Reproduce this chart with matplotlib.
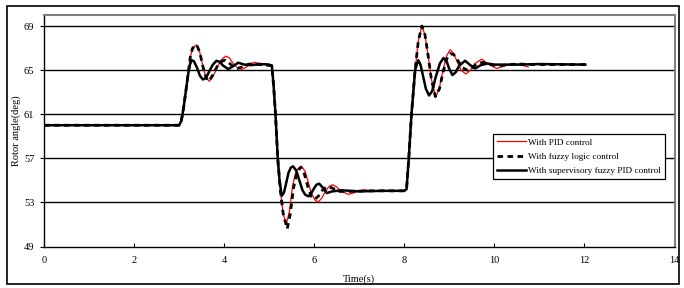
import matplotlib.pyplot as plt
from matplotlib.patches import Rectangle

plt.rcParams['font.family'] = ['Liberation Serif', 'DejaVu Serif']

# PID control
t_pid = [0, 3.0, 3.05, 3.1, 3.15, 3.2, 3.25, 3.3, 3.39, 3.46,
         3.53, 3.6, 3.67, 3.75, 3.85, 3.95, 4.04, 4.12, 4.2, 4.3,
         4.39, 4.5, 4.6, 4.68, 4.8, 4.95, 5.06, 5.1, 5.14, 5.19,
         5.25, 5.31, 5.38, 5.45, 5.52, 5.6, 5.66, 5.72, 5.8, 5.87,
         5.94, 6.02, 6.09, 6.17, 6.25, 6.33, 6.41, 6.5, 6.6, 6.76,
         6.9, 7.0, 7.13, 7.25, 7.4, 7.7, 8.0, 8.05, 8.1, 8.16,
         8.24, 8.31, 8.39, 8.46, 8.53, 8.6, 8.7, 8.78, 8.86, 8.94,
         9.02, 9.1, 9.18, 9.27, 9.37, 9.47, 9.57, 9.72, 9.85, 10.05,
         10.2, 10.41, 10.55, 10.75]
v_pid = [60, 60, 60.4, 61.6, 63.1, 64.7, 66.2, 67.0, 67.3, 66.6,
         65.3, 64.3, 64.0, 64.4, 65.3, 66.0, 66.27, 66.1, 65.6, 65.2,
         65.06, 65.3, 65.6, 65.7, 65.6, 65.55, 65.4, 63.5, 61.0, 57.0,
         54.0, 52.0, 51.0, 52.2, 54.5, 55.9, 56.1, 56.27, 55.8, 54.8,
         53.8, 53.2, 53.03, 53.4, 54.0, 54.45, 54.6, 54.4, 54.0, 53.73,
         53.9, 54.05, 54.15, 54.05, 54.0, 54.05, 54.05, 54.2, 57.0, 61.0,
         65.0, 67.6, 69.0, 68.2, 66.3, 64.2, 62.57, 63.4, 65.0, 66.3,
         66.85, 66.5, 65.7, 64.95, 64.65, 65.0, 65.6, 66.0, 65.6, 65.15,
         65.35, 65.6, 65.5, 65.3]

# fuzzy logic control
t_fuz = [0, 3.0, 3.05, 3.1, 3.15, 3.2, 3.25, 3.3, 3.39, 3.46,
         3.53, 3.6, 3.66, 3.74, 3.84, 3.94, 4.02, 4.1, 4.2, 4.3,
         4.4, 4.55, 4.8, 5.06, 5.1, 5.14, 5.19, 5.25, 5.31, 5.4,
         5.47, 5.54, 5.62, 5.7, 5.78, 5.86, 5.94, 6.02, 6.1, 6.2,
         6.3, 6.4, 6.55, 6.8, 7.2, 8.0, 8.05, 8.1, 8.16, 8.24,
         8.31, 8.39, 8.46, 8.53, 8.6, 8.69, 8.78, 8.86, 8.94, 9.02,
         9.1, 9.2, 9.3, 9.4, 9.5, 9.62, 9.75, 9.9, 10.1, 10.5,
         11.0, 12.02]
v_fuz = [60, 60, 60.4, 61.6, 63.1, 64.7, 66.2, 67.0, 67.3, 66.6,
         65.3, 64.3, 64.0, 64.5, 65.3, 65.8, 65.9, 65.7, 65.3, 65.15,
         65.3, 65.55, 65.5, 65.4, 63.5, 61.0, 57.0, 54.0, 52.0, 50.6,
         52.0, 54.3, 55.8, 56.2, 55.6, 54.4, 53.5, 53.3, 53.6, 54.2,
         54.45, 54.3, 54.0, 54.0, 54.05, 54.05, 54.2, 57.0, 61.0, 65.0,
         67.6, 69.0, 68.2, 66.3, 64.2, 62.6, 63.3, 64.8, 66.0, 66.5,
         66.4, 65.8, 65.2, 65.0, 65.2, 65.6, 65.7, 65.5, 65.4, 65.55,
         65.5, 65.5]

# supervisory fuzzy PID control
t_sup = [0, 3.0, 3.05, 3.1, 3.15, 3.2, 3.24, 3.28, 3.33, 3.4,
         3.46, 3.53, 3.6, 3.67, 3.75, 3.83, 3.9, 3.98, 4.09, 4.18,
         4.31, 4.45, 4.6, 4.8, 5.0, 5.06, 5.1, 5.14, 5.19, 5.23,
         5.28, 5.33, 5.38, 5.43, 5.48, 5.53, 5.6, 5.67, 5.74, 5.8,
         5.87, 5.93, 6.0, 6.05, 6.11, 6.2, 6.28, 6.4, 6.6, 7.0,
         7.5, 8.0, 8.05, 8.1, 8.16, 8.24, 8.31, 8.36, 8.42, 8.48,
         8.55, 8.62, 8.7, 8.79, 8.87, 8.94, 9.0, 9.07, 9.14, 9.22,
         9.35, 9.45, 9.57, 9.7, 9.85, 10.0, 10.5, 11.0, 12.02]
v_sup = [60, 60, 60.4, 61.6, 63.1, 64.6, 65.5, 65.9, 65.8, 65.2,
         64.5, 64.15, 64.3, 64.9, 65.5, 65.85, 65.75, 65.4, 65.1, 65.3,
         65.67, 65.5, 65.45, 65.55, 65.5, 65.4, 63.5, 61.0, 57.0, 55.0,
         53.6, 53.9, 54.8, 55.7, 56.15, 56.27, 55.9, 55.0, 54.1, 53.7,
         53.55, 53.8, 54.3, 54.6, 54.7, 54.3, 53.85, 54.0, 54.1, 54.0,
         54.05, 54.05, 54.2, 57.0, 61.0, 65.0, 65.9, 65.5, 64.4, 63.3,
         62.7, 63.1, 64.4, 65.6, 66.1, 65.8, 65.1, 64.55, 64.8, 65.4,
         65.85, 65.5, 65.15, 65.45, 65.6, 65.5, 65.5, 65.55, 65.5]

x_ticks = [0, 2, 4, 6, 8, 10, 12, 14]
y_ticks = [49, 53, 57, 61, 65, 69]

fig = plt.figure(figsize=(6.84, 2.88), dpi=100)
ax = fig.add_axes([44 / 684, 41.5 / 288, 630.5 / 684, 231.5 / 288])

# outer chart border
fig.patches.append(Rectangle((7 / 684, 4 / 288), 672 / 684, 278 / 288,
                             transform=fig.transFigure, fill=False,
                             edgecolor='black', linewidth=1.2))

# horizontal gridlines
for y in y_ticks[1:]:
    ax.axhline(y, color='black', linewidth=1.0, zorder=1)

ax.plot(t_pid, v_pid, color='red', linewidth=0.9, label='With PID control', zorder=3)
ax.plot(t_fuz, v_fuz, color='black', linewidth=2.0, linestyle=(0, (2.0, 1.6)),
        label='With fuzzy logic control', zorder=4)
ax.plot(t_sup, v_sup, color='black', linewidth=1.8, label='With supervisory fuzzy PID control',
        zorder=5)

ax.set_xlim(0, 14)
ax.set_ylim(49, 70)
ax.set_xticks(x_ticks)
ax.set_yticks(y_ticks)
ax.tick_params(axis='x', direction='in', length=3, pad=7, labelsize=7.5)
ax.tick_params(axis='y', direction='out', length=3, pad=4, labelsize=7.5)

for s in ['left', 'bottom']:
    ax.spines[s].set_color('black')
    ax.spines[s].set_linewidth(1.0)
for s in ['top', 'right']:
    ax.spines[s].set_color('#808080')
    ax.spines[s].set_linewidth(1.5)

ax.set_xlabel('Time(s)', fontsize=7.5)
ax.set_ylabel('Rotor angle(deg)', fontsize=7.5)
ax.xaxis.set_label_coords(0.5, -0.119)
ax.yaxis.set_label_coords(-0.036, 0.5)

leg = ax.legend(loc='upper left', bbox_to_anchor=(0.712, 0.486), fontsize=6.7,
                frameon=True, fancybox=False, edgecolor='black', framealpha=1,
                handlelength=3.1, handletextpad=0.2, borderpad=0.45,
                labelspacing=0.6, borderaxespad=0)
leg.get_frame().set_linewidth(0.9)
leg.set_zorder(10)

fig.savefig('out.png', dpi=100)
